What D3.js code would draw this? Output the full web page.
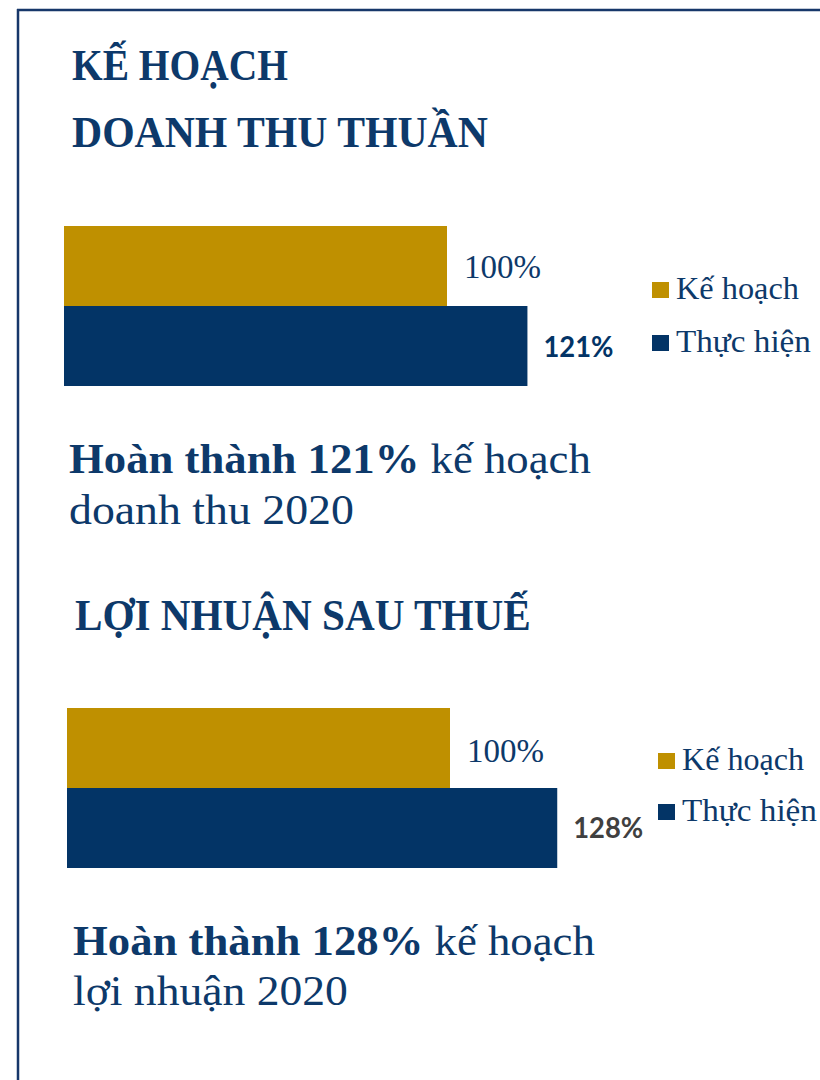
<!DOCTYPE html>
<html>
<head>
<meta charset="utf-8">
<script src="https://cdn.jsdelivr.net/npm/d3@7"></script>
<style>
  html, body { margin: 0; padding: 0; background: #ffffff; }
  svg { display: block; }
</style>
</head>
<body>
<script>
// ---------- data ----------
const categories = ["Kế hoạch", "Thực hiện"];
const revenueValues = [100, 121];
const profitValues = [100, 128];
const valueLabels1 = ["100%", "121%"];
const valueLabels2 = ["100%", "128%"];
const title1 = ["KẾ HOẠCH", "DOANH THU THUẦN"];
const title2 = ["LỢI NHUẬN SAU THUẾ"];
const note1 = [["Hoàn thành 121%", " kế hoạch"], ["doanh thu 2020"]];
const note2 = [["Hoàn thành 128%", " kế hoạch"], ["lợi nhuận 2020"]];

// ---------- style ----------
const W = 820, H = 1080;
const NAVY = "#033466";
const TEXT = "#0d396a";
const GOLD = "#bf9000";
const colors = d3.scaleOrdinal().domain(categories).range([GOLD, NAVY]);
const SERIF = "'Liberation Serif', 'DejaVu Serif', serif";
const SANS = "Lato, 'Open Sans', sans-serif";

const svg = d3.select("body").append("svg").attr("width", W).attr("height", H);

// frame
svg.append("line").attr("x1", 17).attr("x2", W).attr("y1", 10).attr("y2", 10)
  .attr("stroke", "#17376a").attr("stroke-width", 2.5);
svg.append("line").attr("x1", 18).attr("x2", 18).attr("y1", 9).attr("y2", H)
  .attr("stroke", "#17376a").attr("stroke-width", 2.5);

// helper: horizontally scale a text element to a target width
function fit(sel, x, width) {
  const node = sel.node();
  const w = node.getComputedTextLength();
  const k = width / w;
  sel.attr("transform", `translate(${x},0) scale(${k},1) translate(${-x},0)`);
  return sel;
}

function drawTitle(lines, x, baselines, widths) {
  lines.forEach((t, i) => {
    const el = svg.append("text").attr("x", x).attr("y", baselines[i])
      .attr("font-family", SERIF).attr("font-weight", "bold")
      .attr("font-size", 45).attr("fill", TEXT).text(t);
    fit(el, x, widths[i]);
  });
}

function drawNote(lines, x, baselines, widths) {
  lines.forEach((parts, i) => {
    const el = svg.append("text").attr("x", x).attr("y", baselines[i])
      .attr("font-family", SERIF).attr("font-size", 43).attr("fill", TEXT);
    if (parts.length === 2) {
      el.append("tspan").attr("font-weight", "bold").text(parts[0]);
      el.append("tspan").text(parts[1]);
    } else {
      el.append("tspan").text(parts[0]);
    }
    fit(el, x, widths[i]);
  });
}

function drawChart(cfg) {
  const x = d3.scaleLinear().domain([0, 100]).range([cfg.x0, cfg.x0 + 383]);
  const y = d3.scaleBand().domain(categories).range([cfg.top, cfg.top + 160]).padding(0);
  const g = svg.append("g");
  g.selectAll("rect").data(cfg.values).enter().append("rect")
    .attr("x", x(0))
    .attr("y", (d, i) => y(categories[i]))
    .attr("width", d => x(d) - x(0))
    .attr("height", y.bandwidth())
    .attr("fill", (d, i) => colors(categories[i]));

  // value labels
  cfg.values.forEach((v, i) => {
    const cy = y(categories[i]) + y.bandwidth() / 2;
    const lx = x(v) + 17;
    if (i === 0) {
      const t = g.append("text").attr("x", lx).attr("y", cy + cfg.off[0])
        .attr("font-family", SERIF).attr("font-size", 34).attr("fill", TEXT)
        .text(cfg.labels[i]);
      fit(t, lx, 77);
    } else {
      const t = g.append("text").attr("x", lx - 1).attr("y", cy + cfg.off[1])
        .attr("font-family", SANS).attr("font-weight", "bold").attr("font-size", 29)
        .attr("fill", cfg.boldColor).text(cfg.labels[i]);
      fit(t, lx - 1, 70);
    }
  });

  // legend
  categories.forEach((c, i) => {
    const ly = cfg.legY[i];
    g.append("rect").attr("x", cfg.legX).attr("y", ly - 17).attr("width", 17).attr("height", 16)
      .attr("fill", colors(c));
    const t = g.append("text").attr("x", cfg.legX + 24).attr("y", ly)
      .attr("font-family", SERIF).attr("font-size", 32).attr("fill", TEXT).text(c);
    fit(t, cfg.legX + 24, cfg.legW[i]);
  });
}

// ---------- section 1 ----------
drawTitle(title1, 72, [80, 147], [216, 416]);
drawChart({
  x0: 64, top: 226, values: revenueValues, labels: valueLabels1,
  off: [12, 11], boldColor: NAVY,
  legX: 652, legY: [299, 352], legW: [123, 135]
});
drawNote(note1, 69, [473, 524], [522, 285]);

// ---------- section 2 ----------
drawTitle(title2, 75, [630], [456]);
drawChart({
  x0: 67, top: 708, values: profitValues, labels: valueLabels2,
  off: [14, 10], boldColor: "#404040",
  legX: 658, legY: [770, 821], legW: [122, 135]
});
drawNote(note2, 73, [955, 1005], [522, 275]);
</script>
</body>
</html>
